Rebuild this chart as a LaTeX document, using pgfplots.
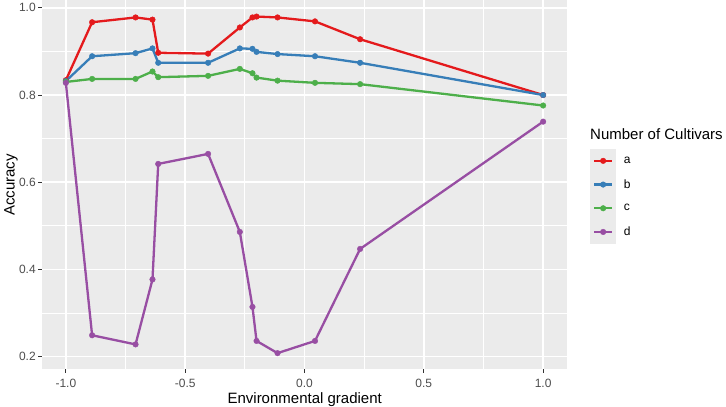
\documentclass[border=0pt]{standalone}
\usepackage{fontspec}
\setmainfont{Liberation Sans}
\usepackage{pgfplots}
\pgfplotsset{compat=1.18}
\definecolor{ca}{HTML}{E41A1C}
\definecolor{cb}{HTML}{377EB8}
\definecolor{cc}{HTML}{4DAF4A}
\definecolor{cd}{HTML}{984EA3}
\definecolor{panel}{HTML}{EBEBEB}
\definecolor{tickc}{HTML}{333333}
\definecolor{labc}{HTML}{4D4D4D}
\begin{document}
\begin{tikzpicture}
\path[use as bounding box] (0bp,0bp) rectangle (726bp,407bp);
\begin{axis}[
  at={(42bp,38bp)}, anchor=south west,
  scale only axis, width=525bp, height=369bp,
  xmin=-1.1, xmax=1.1, ymin=0.1716, ymax=1.018,
  axis background/.style={fill=panel},
  axis line style={draw=none},
  xtick={-1,-0.5,0,0.5,1}, xticklabels={-1.0,-0.5,0.0,0.5,1.0},
  ytick={0.2,0.4,0.6,0.8,1.0}, yticklabels={0.2,0.4,0.6,0.8,1.0},
  minor xtick={-0.75,-0.25,0.25,0.75}, minor ytick={0.3,0.5,0.7,0.9},
  grid=both,
  major grid style={white, line width=1.5bp},
  minor grid style={white, line width=0.75bp},
  tick pos=left, tick align=outside,
  major tick length=3.6bp, minor tick length=0pt,
  tick style={tickc, line width=1bp},
  ticklabel style={font=\fontsize{12bp}{14bp}\selectfont, text=labc},
  xticklabel style={inner sep=0pt, yshift=-6bp},
  yticklabel style={inner sep=0pt, xshift=-2.5bp},
  every axis plot/.append style={line width=2.3bp, mark=*, mark size=2.8bp, mark options={solid, line width=0.4bp}},
  legend style={at={(1.0438,0.5962)}, anchor=north west, draw=none, fill=none,
    inner sep=0pt, outer sep=0pt, row sep=0pt,
    font=\fontsize{12bp}{14bp}\selectfont,
    nodes={inner sep=0pt, outer sep=0pt, anchor=west},
    /tikz/every odd column/.append style={column sep=7.7bp}},
  legend cell align=left,
  legend image code/.code={
    \fill[panel] (0bp,-10.7bp) rectangle (24bp,10.7bp);
    \draw[mark repeat=2,mark phase=2,#1] plot coordinates {(3bp,0bp)(12bp,0bp)(21bp,0bp)};
  },
]
\addplot[ca] coordinates {
(-1.0,0.834) (-0.890,0.967) (-0.708,0.978) (-0.637,0.973) (-0.613,0.897) (-0.404,0.895)
(-0.271,0.955) (-0.218,0.978) (-0.201,0.980) (-0.113,0.978) (0.044,0.969) (0.233,0.928) (1.0,0.800)};
\addlegendentry{a}
\addplot[cb] coordinates {
(-1.0,0.832) (-0.890,0.889) (-0.708,0.896) (-0.637,0.907) (-0.613,0.874) (-0.404,0.874)
(-0.271,0.907) (-0.218,0.906) (-0.201,0.899) (-0.113,0.894) (0.044,0.889) (0.233,0.874) (1.0,0.800)};
\addlegendentry{b}
\addplot[cc] coordinates {
(-1.0,0.830) (-0.890,0.837) (-0.708,0.837) (-0.637,0.854) (-0.613,0.841) (-0.404,0.844)
(-0.271,0.860) (-0.218,0.850) (-0.201,0.840) (-0.113,0.833) (0.044,0.828) (0.233,0.825) (1.0,0.776)};
\addlegendentry{c}
\addplot[cd] coordinates {
(-1.0,0.828) (-0.890,0.249) (-0.708,0.228) (-0.637,0.377) (-0.613,0.642) (-0.404,0.665)
(-0.271,0.486) (-0.218,0.314) (-0.201,0.236) (-0.113,0.208) (0.044,0.236) (0.233,0.447) (1.0,0.739)};
\addlegendentry{d}
\end{axis}
\node[font=\fontsize{15bp}{18bp}\selectfont] at (304.7bp,7.5bp) {Environmental gradient};
\node[font=\fontsize{15bp}{18bp}\selectfont, rotate=90] at (11bp,222bp) {Accuracy};
\node[font=\fontsize{15bp}{18bp}\selectfont, anchor=west, inner sep=0pt] at (590bp,273bp) {Number of Cultivars};
\end{tikzpicture}
\end{document}
